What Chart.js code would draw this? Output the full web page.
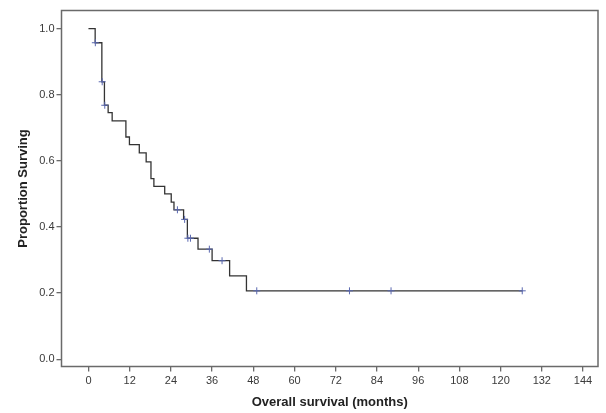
<!DOCTYPE html>
<html>
<head>
<meta charset="utf-8">
<script src="https://cdn.jsdelivr.net/npm/chart.js@4.4.1/dist/chart.umd.min.js"></script>
<style>
  html, body { margin: 0; padding: 0; background: #ffffff; }
  #wrap { width: 606px; height: 413px; position: relative; }
</style>
</head>
<body>
<div id="wrap"><canvas id="c"></canvas></div>
<script>
// Kaplan-Meier step points: time (months) where the curve drops, and the new level
const survTimes = [0, 1.95, 3.9, 4.65, 5.73, 6.9, 10.9, 11.93, 14.8, 16.8, 18.2, 19.05, 22.2, 24.1, 24.9, 27.7, 28.8, 31.9, 36.0, 41.1, 46.0, 126.4];
const survProb  = [1.0, 0.957, 0.839, 0.768, 0.746, 0.721, 0.672, 0.649, 0.624, 0.597, 0.546, 0.523, 0.500, 0.475, 0.452, 0.423, 0.366, 0.333, 0.298, 0.252, 0.207, 0.207];
// Censored observations
const censorTimes = [2.0, 4.0, 4.75, 25.9, 28.0, 28.95, 29.7, 35.2, 38.9, 49.0, 76.0, 88.1, 126.3];
const censorProb  = [0.957, 0.839, 0.768, 0.452, 0.423, 0.366, 0.366, 0.333, 0.298, 0.207, 0.207, 0.207, 0.207];
// Tick labels
const xTicks = [0, 12, 24, 36, 48, 60, 72, 84, 96, 108, 120, 132, 144];
const yTicks = [0.0, 0.2, 0.4, 0.6, 0.8, 1.0];
const xTitle = 'Overall survival (months)';
const yTitle = 'Proportion Surving';

const curve = survTimes.map((t, i) => ({ x: t, y: survProb[i] }));
const censored = censorTimes.map((t, i) => ({ x: t, y: censorProb[i] }));

const frame = {
  id: 'frame',
  afterDraw(chart) {
    const { ctx, chartArea: a } = chart;
    ctx.save();
    ctx.strokeStyle = '#6a6a6a';
    ctx.lineWidth = 1.5;
    ctx.strokeRect(a.left, a.top, a.right - a.left, a.bottom - a.top);
    ctx.restore();
  }
};

const tickFont = { family: "'Liberation Sans', Arial, sans-serif", size: 11 };
const titleFont = { family: "'Liberation Sans', Arial, sans-serif", size: 13, weight: 'bold' };

new Chart(document.getElementById('c'), {
  type: 'scatter',
  data: {
    datasets: [
      {
        data: curve,
        showLine: true,
        stepped: 'before',
        borderColor: '#333333',
        borderWidth: 1.3,
        pointRadius: 0,
        fill: false,
        order: 2
      },
      {
        data: censored,
        showLine: false,
        pointStyle: 'cross',
        pointRadius: 3.5,
        pointBorderWidth: 1,
        pointBorderColor: '#5a68b0',
        pointBackgroundColor: '#5a68b0',
        order: 1
      }
    ]
  },
  options: {
    responsive: true,
    maintainAspectRatio: false,
    animation: false,
    layout: { padding: { top: 10.5, right: 8, left: 0, bottom: 0 } },
    plugins: { legend: { display: false }, tooltip: { enabled: false } },
    scales: {
      x: {
        type: 'linear',
        min: -7.85,
        max: 148.36,
        afterBuildTicks: s => { s.ticks = xTicks.map(v => ({ value: v })); },
        afterFit: s => { s.height = 46.5; },
        ticks: { font: tickFont, color: '#3a3a3a', padding: 3, maxRotation: 0, autoSkip: false,
                 callback: v => String(v) },
        grid: { display: true, drawOnChartArea: false, drawTicks: true, tickLength: 5, color: '#6a6a6a', lineWidth: 1.3 },
        border: { display: false },
        title: { display: true, text: xTitle, font: titleFont, color: '#222222', padding: { top: 0, bottom: 3 } }
      },
      y: {
        type: 'linear',
        min: -0.0218,
        max: 1.0545,
        afterBuildTicks: s => { s.ticks = yTicks.map(v => ({ value: v })); },
        afterFit: s => { s.width = 61.5; },
        ticks: { font: tickFont, color: '#3a3a3a', padding: 2, callback: v => Number(v).toFixed(1) },
        grid: { display: true, drawOnChartArea: false, drawTicks: true, tickLength: 5, color: '#6a6a6a', lineWidth: 1.3 },
        border: { display: false },
        title: { display: true, text: yTitle, font: titleFont, color: '#222222', padding: { top: 16, bottom: 0 } }
      }
    }
  },
  plugins: [frame]
});
</script>
</body>
</html>
